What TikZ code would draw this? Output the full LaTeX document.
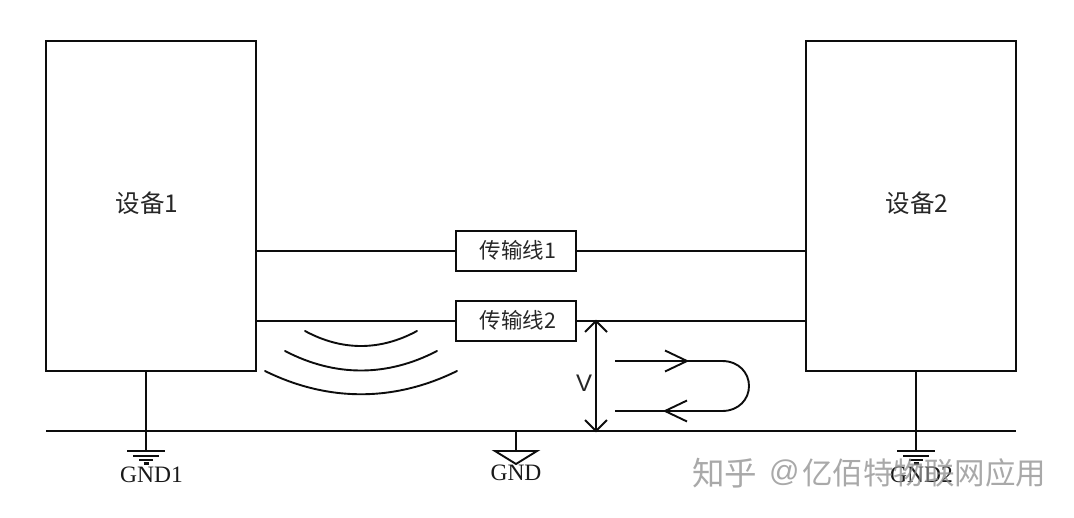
\documentclass[tikz,border=0pt]{standalone}
\usepackage{fontspec}
\setmainfont{Liberation Serif}
\setsansfont{Liberation Sans}
\newfontfamily\cjkf{Noto Sans CJK SC}
\tikzset{
  ln/.style={line width=2.1pt,black!95},
  thin ln/.style={line width=1.9pt,black!95},
  device/.style={draw=black!95,line width=2.2pt,minimum width=210pt,minimum height=330pt,inner sep=0pt,outer sep=0pt},
  devtext/.style={inner sep=0pt,font=\cjkf\fontsize{24.5}{24.5}\selectfont,text=black!85},
  tline/.style={draw=black!95,line width=2pt,minimum width=120pt,minimum height=40pt,inner sep=0pt,outer sep=0pt},
  tltext/.style={inner sep=0pt,font=\cjkf\fontsize{21.5}{21.5}\selectfont,text=black!85},
  gndtext/.style={inner sep=0pt,font=\fontsize{23.5}{23.5}\selectfont,text=black!90},
  wave/.style={line width=1.9pt,black!95,line cap=round},
  mark text/.style={inner sep=0pt,font=\cjkf\fontsize{30.5}{30.5}\selectfont,text=black!45,opacity=.75}
}
\begin{document}
\begin{tikzpicture}[x=1pt,y=-1pt]
\useasboundingbox (0,0) rectangle (1074,517);
\node[device] (dev1) at (151,206) {};
\node[device] (dev2) at (911,206) {};
\node[devtext] (dev1t) at (147,203) {设备1};
\node[devtext] (dev2t) at (917,203) {设备2};
\node[tline] (t1) at (516,251) {};
\node[tline] (t2) at (516,321) {};
\node[tltext] (t1t) at (518,250) {传输线1};
\node[tltext] (t2t) at (518,320) {传输线2};
\coordinate (d1a) at (dev1.east |- t1.west);
\coordinate (d1b) at (dev1.east |- t2.west);
\coordinate (d2a) at (dev2.west |- t1.east);
\coordinate (d2b) at (dev2.west |- t2.east);
\draw[ln] (d1a) -- (t1.west);
\draw[ln] (t1.east) -- (d2a);
\draw[ln] (d1b) -- (t2.west);
\draw[ln] (t2.east) -- (d2b);
% ground rail
\coordinate (railL) at (46,431);
\coordinate (railR) at (1016,431);
\draw[ln] (railL) -- (railR);
% earth 1
\coordinate (g1) at (146,451);
\draw[ln] (146,371) -- (g1);
\draw[ln] (127,451) -- (165,451) (133,456) -- (159,456) (139,460) -- (153,460) (143.5,463.5) -- (148.5,463.5);
\node[gndtext] (gnd1) at (151.5,475) {GND1};
% earth 2
\coordinate (g2) at (916,451);
\draw[ln] (916,371) -- (g2);
\draw[ln] (897,451) -- (935,451) (903,456) -- (929,456) (909,460) -- (923,460) (913.5,463.5) -- (918.5,463.5);
\node[gndtext] (gnd2) at (921.5,475) {GND2};
% common ground
\coordinate (g3) at (516,451);
\draw[ln] (516,431) -- (g3);
\draw[thin ln,line join=miter] (495,451) -- (537,451) -- (516,464) -- cycle;
\node[gndtext] (gnd3) at (516,473) {GND};
% voltage
\coordinate (vt) at (596,321);
\coordinate (vb) at (596,431);
\draw[thin ln] (vt) -- (vb);
\draw[thin ln] ([shift={(-11,11)}]vt) -- (vt) -- ([shift={(11,11)}]vt);
\draw[thin ln] ([shift={(-11,-11)}]vb) -- (vb) -- ([shift={(11,-11)}]vb);
\node[inner sep=0pt,font=\sffamily\fontsize{24}{24}\selectfont,text=black!85] (vlabel) at (584,383) {V};
% current loop
\coordinate (la) at (615,361);
\coordinate (lt) at (687,361);
\coordinate (lb) at (615,411);
\coordinate (lu) at (665,411);
\draw[thin ln] (la) -- (lt) -- (722,361) .. controls (739,361) and (749,373) .. (749,386) .. controls (749,399) and (739,411) .. (722,411) -- (lu) -- (lb);
\draw[thin ln] ([shift={(-22,-10.5)}]lt) -- (lt) -- ([shift={(-22,10.5)}]lt);
\draw[thin ln] ([shift={(22,-10.5)}]lu) -- (lu) -- ([shift={(22,10.5)}]lu);
% radiation waves
\draw[wave] (305,331) .. controls (342,351) and (380,351) .. (417,331);
\draw[wave] (285,351) .. controls (335,377) and (387,377) .. (437,351);
\draw[wave] (265,371) .. controls (328,402) and (394,402) .. (457,371);
% watermark
\node[mark text,anchor=west,font=\cjkf\fontsize{32.5}{32.5}\selectfont] (wm1) at (692,473) {知乎};
\node[mark text,anchor=west,font=\sffamily\fontsize{30}{30}\selectfont] (wm2) at (769,473) {@};
\node[mark text,anchor=west] (wm3) at (802,473) {亿佰特物联网应用};
\end{tikzpicture}
\end{document}
